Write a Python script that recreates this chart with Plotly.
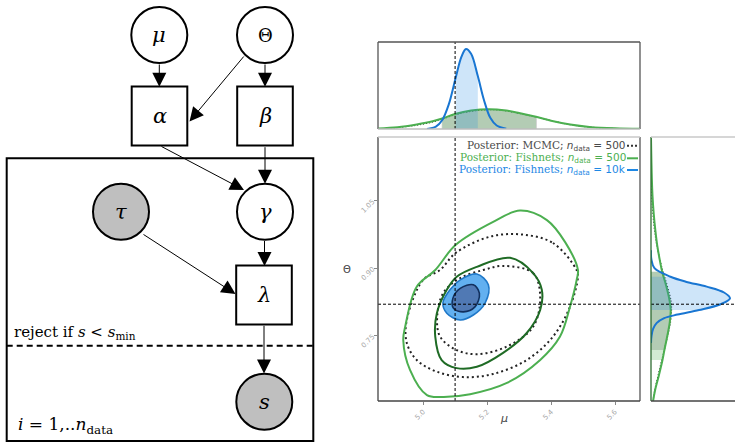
import plotly.graph_objects as go

# ---------------- graphical model (left) ----------------
node_label = ["μ", "Θ", "α", "β", "γ", "τ", "λ", "s"]
node_cx = [159.3, 265.0, 159.5, 265.0, 265.0, 121.0, 264.0, 264.3]
node_cy = [35.0, 35.0, 116.0, 116.0, 211.7, 211.7, 295.0, 401.7]
node_form = ["circle", "circle", "box", "box", "circle", "circle", "box", "circle"]
node_observed = [0, 0, 0, 0, 0, 1, 0, 1]
node_italic = [1, 0, 1, 1, 1, 1, 1, 1]

edge_tail_x = [159.3, 245.0, 265.0, 160.0, 265.0, 142.0, 264.5, 264.0]
edge_tail_y = [63.0, 55.0, 63.0, 145.7, 145.7, 233.5, 239.5, 324.3]
edge_head_x = [159.3, 189.5, 265.0, 244.0, 265.0, 235.5, 264.5, 264.0]
edge_head_y = [86.7, 121.5, 86.7, 190.0, 183.7, 294.0, 266.0, 373.5]

plate_x = [6.7, 313.3]
plate_y = [158.3, 441.0]
cut_y = 345.7

# ---------------- posterior summaries (right) ----------------
mu_true = 5.1
theta_true = 0.82

mcmc95_mu = [5.308, 5.406, 5.480, 5.484, 5.459, 5.406, 5.324, 5.219, 5.125, 5.043, 4.980, 4.949, 4.949, 5.000, 5.053, 5.102, 5.209]
mcmc95_th = [0.975, 0.956, 0.896, 0.881, 0.814, 0.748, 0.696, 0.665, 0.658, 0.670, 0.696, 0.734, 0.785, 0.874, 0.896, 0.934, 0.970]
mcmc68_mu = [5.250, 5.344, 5.366, 5.344, 5.262, 5.168, 5.105, 5.053, 5.044, 5.063, 5.116, 5.188]
mcmc68_th = [0.905, 0.889, 0.837, 0.770, 0.726, 0.709, 0.718, 0.748, 0.792, 0.845, 0.878, 0.896]

fish500_95_mu = [5.303, 5.387, 5.444, 5.484, 5.480, 5.459, 5.428, 5.366, 5.262, 5.147, 5.063, 5.012, 4.959, 4.938, 4.944, 4.980, 5.038, 5.102, 5.219]
fish500_95_th = [1.028, 1.007, 0.958, 0.896, 0.874, 0.814, 0.748, 0.696, 0.645, 0.620, 0.614, 0.618, 0.674, 0.740, 0.770, 0.859, 0.896, 0.952, 1.003]
fish500_68_mu = [5.272, 5.344, 5.371, 5.366, 5.324, 5.250, 5.168, 5.105, 5.058, 5.038, 5.043, 5.074, 5.105, 5.168]
fish500_68_th = [0.923, 0.889, 0.852, 0.807, 0.756, 0.712, 0.681, 0.678, 0.696, 0.748, 0.800, 0.852, 0.881, 0.903]

fish10k_95_mu = [5.168, 5.204, 5.194, 5.157, 5.116, 5.074, 5.062, 5.084, 5.116]
fish10k_95_th = [0.887, 0.863, 0.823, 0.796, 0.785, 0.800, 0.823, 0.852, 0.874]
fish10k_68_mu = [5.157, 5.176, 5.162, 5.126, 5.095, 5.093, 5.116]
fish10k_68_th = [0.863, 0.844, 0.814, 0.803, 0.811, 0.833, 0.855]

# marginal of mu
mu_grid_10k = [5.012, 5.04, 5.06, 5.08, 5.102, 5.12, 5.134, 5.15, 5.171, 5.19, 5.21, 5.23, 5.26]
mu_pdf_10k = [0.0, 0.35, 1.3, 3.5, 7.4, 10.4, 11.5, 10.8, 7.6, 4.2, 1.6, 0.5, 0.05]
mu_band_10k = (5.102, 5.171)

mu_grid_500 = [4.86, 4.92, 4.98, 5.03, 5.06, 5.10, 5.15, 5.207, 5.26, 5.30, 5.353, 5.40, 5.46, 5.52, 5.60, 5.68]
mu_pdf_500 = [0.08, 0.25, 0.65, 1.1, 1.5, 2.15, 2.65, 2.85, 2.65, 2.3, 1.75, 1.2, 0.65, 0.3, 0.09, 0.02]
mu_band_500 = (5.06, 5.353)

mu_grid_mcmc = [4.86, 4.92, 4.98, 5.03, 5.058, 5.10, 5.15, 5.21, 5.26, 5.30, 5.356, 5.40, 5.46, 5.52, 5.60, 5.68]
mu_pdf_mcmc = [0.05, 0.2, 0.55, 1.0, 1.4, 2.05, 2.55, 2.78, 2.6, 2.25, 1.7, 1.2, 0.62, 0.28, 0.07, 0.01]
mu_band_mcmc = (5.058, 5.356)

# marginal of Theta
th_grid_10k = [0.940, 0.920, 0.900, 0.881, 0.870, 0.859, 0.846, 0.833, 0.820, 0.807, 0.797, 0.789, 0.778, 0.765, 0.750, 0.734]
th_pdf_10k = [0.0, 0.05, 0.5, 2.8, 5.0, 8.0, 10.5, 11.35, 10.0, 6.9, 3.8, 1.9, 0.8, 0.3, 0.08, 0.0]
th_band_10k = (0.807, 0.881)

th_grid_500 = [1.19, 1.10, 1.06, 1.02, 0.985, 0.95, 0.911, 0.892, 0.86, 0.83, 0.807, 0.78, 0.75, 0.72, 0.696, 0.66, 0.63, 0.605]
th_pdf_500 = [0.0, 0.12, 0.22, 0.4, 0.62, 0.9, 1.35, 1.6, 2.2, 2.65, 2.83, 2.7, 2.35, 1.95, 1.65, 1.1, 0.6, 0.3]
th_band_500 = (0.696, 0.892)

th_grid_mcmc = [1.19, 1.10, 1.06, 1.02, 0.985, 0.95, 0.911, 0.892, 0.86, 0.83, 0.81, 0.78, 0.75, 0.718, 0.69, 0.66, 0.63, 0.605]
th_pdf_mcmc = [0.0, 0.05, 0.12, 0.28, 0.5, 0.85, 1.4, 1.75, 2.35, 2.85, 2.95, 2.8, 2.4, 1.9, 1.45, 1.0, 0.55, 0.3]
th_band_mcmc = (0.718, 0.892)

legend_rows = [
    ("Posterior: MCMC; ", "500", "#4a4a4a", "#333333", "dot"),
    ("Posterior: Fishnets; ", "500", "#4caf50", "#4caf50", "solid"),
    ("Posterior: Fishnets; ", "10k", "#1e88e5", "#1e88e5", "solid"),
]

C_MCMC = "#222222"
C_G95 = "#4caf50"
C_G68 = "#1f6b25"
C_B95_LINE = "#1f78c8"
C_B95_FILL = "#62b0f0"
C_B68_LINE = "#12305e"
C_B68_FILL = "#5079b4"

W, H = 735, 442
main_x = [378 / W, 640 / W]
main_y = [(H - 401) / H, (H - 137) / H]
top_y = [(H - 129) / H, (H - 42) / H]
side_x = [651 / W, 1.0]
mu_range = [4.859, 5.678]
th_range = [0.6049, 1.1916]

fig = go.Figure()


def closed(xs, ys):
    return list(xs) + [xs[0]], list(ys) + [ys[0]]


def contour(xs, ys, color, width, dash="solid", fill=None):
    cx, cy = closed(xs, ys)
    fig.add_trace(go.Scatter(
        x=cx, y=cy, mode="lines", xaxis="x", yaxis="y",
        line=dict(color=color, width=width, dash=dash, shape="spline", smoothing=1.0),
        fill="toself" if fill else None, fillcolor=fill,
        hoverinfo="skip", showlegend=False))


contour(mcmc95_mu, mcmc95_th, C_MCMC, 2.0, dash="2px,3px")
contour(mcmc68_mu, mcmc68_th, C_MCMC, 2.0, dash="2px,3px")
contour(fish500_95_mu, fish500_95_th, C_G95, 2.0)
contour(fish500_68_mu, fish500_68_th, C_G68, 2.0)
contour(fish10k_95_mu, fish10k_95_th, C_B95_LINE, 1.6, fill=C_B95_FILL)
contour(fish10k_68_mu, fish10k_68_th, C_B68_LINE, 1.6, fill=C_B68_FILL)


def band(grid, pdf, lo, hi):
    gx = [g for g in grid if lo <= g <= hi]
    gy = [p for g, p in zip(grid, pdf) if lo <= g <= hi]
    return gx, gy


def top_marginal(grid, pdf, lims, color, width, fillcolor, dash="solid"):
    bx, by = band(grid, pdf, *lims)
    fig.add_trace(go.Scatter(x=bx, y=by, xaxis="x2", yaxis="y2", mode="lines",
                             line=dict(width=0, shape="spline"), fill="tozeroy",
                             fillcolor=fillcolor, hoverinfo="skip", showlegend=False))
    fig.add_trace(go.Scatter(x=grid, y=pdf, xaxis="x2", yaxis="y2", mode="lines",
                             line=dict(color=color, width=width, dash=dash, shape="spline"),
                             hoverinfo="skip", showlegend=False))


def side_marginal(grid, pdf, lims, color, width, fillcolor, dash="solid"):
    by, bx = band(grid, pdf, *lims)
    fig.add_trace(go.Scatter(x=bx, y=by, xaxis="x3", yaxis="y3", mode="lines",
                             line=dict(width=0, shape="spline"), fill="tozerox",
                             fillcolor=fillcolor, hoverinfo="skip", showlegend=False))
    fig.add_trace(go.Scatter(x=pdf, y=grid, xaxis="x3", yaxis="y3", mode="lines",
                             line=dict(color=color, width=width, dash=dash, shape="spline"),
                             hoverinfo="skip", showlegend=False))


GRAY_FILL = "rgba(120,120,120,0.30)"
GREEN_FILL = "rgba(76,175,80,0.25)"
BLUE_FILL = "rgba(30,136,229,0.22)"

top_marginal(mu_grid_mcmc, mu_pdf_mcmc, mu_band_mcmc, C_MCMC, 1.2, GRAY_FILL, dash="1px,2px")
top_marginal(mu_grid_500, mu_pdf_500, mu_band_500, C_G95, 2.0, GREEN_FILL)
top_marginal(mu_grid_10k, mu_pdf_10k, mu_band_10k, "#1976d2", 2.0, BLUE_FILL)

side_marginal(th_grid_mcmc, th_pdf_mcmc, th_band_mcmc, C_MCMC, 1.2, GRAY_FILL, dash="1px,2px")
side_marginal(th_grid_500, th_pdf_500, th_band_500, C_G95, 2.0, GREEN_FILL)
side_marginal(th_grid_10k, th_pdf_10k, th_band_10k, "#1976d2", 2.0, BLUE_FILL)

shapes = []

# true parameter values
truth = dict(color="black", width=1, dash="3px,2px")
shapes.append(dict(type="line", xref="x", yref="y domain", x0=mu_true, x1=mu_true, y0=0, y1=1, line=truth))
shapes.append(dict(type="line", xref="x domain", yref="y", x0=0, x1=1, y0=theta_true, y1=theta_true, line=truth))
shapes.append(dict(type="line", xref="x2", yref="y2 domain", x0=mu_true, x1=mu_true, y0=0, y1=1, line=truth))
shapes.append(dict(type="line", xref="x3 domain", yref="y3", x0=0, x1=1, y0=theta_true, y1=theta_true, line=truth))


def frame(xa, ya, left, right, bottom, top, lw=1.3):
    xr, yr = f"{xa} domain", f"{ya} domain"
    for (x0, y0, x1, y1, col) in [(0, 0, 0, 1, left), (1, 0, 1, 1, right),
                                  (0, 0, 1, 0, bottom), (0, 1, 1, 1, top)]:
        if col:
            shapes.append(dict(type="line", xref=xr, yref=yr, x0=x0, y0=y0, x1=x1, y1=y1,
                               line=dict(color=col, width=lw)))


frame("x", "y", "#444444", "#555555", "#444444", "#c8c8c8")
frame("x2", "y2", "#555555", "#555555", "#bdbdbd", "#555555")
frame("x3", "y3", "#2f6b32", None, "#444444", "#c8c8c8")

# ---- graphical model ----
R = 28.0
BW, BH = 27.8, 29.5
for lab, cx, cy, form, obs in zip(node_label, node_cx, node_cy, node_form, node_observed):
    fillc = "#bfbfbf" if obs else "white"
    if form == "circle":
        shapes.append(dict(type="circle", xref="x4", yref="y4", x0=cx - R, x1=cx + R,
                           y0=cy - R, y1=cy + R, fillcolor=fillc, line=dict(color="black", width=2)))
    else:
        shapes.append(dict(type="rect", xref="x4", yref="y4", x0=cx - BW, x1=cx + BW,
                           y0=cy - BH, y1=cy + BH, fillcolor=fillc, line=dict(color="black", width=2)))

shapes.append(dict(type="rect", xref="x4", yref="y4", x0=plate_x[0], x1=plate_x[1],
                   y0=plate_y[0], y1=plate_y[1], line=dict(color="black", width=2), layer="below"))
shapes.append(dict(type="line", xref="x4", yref="y4", x0=plate_x[0], x1=plate_x[1],
                   y0=cut_y, y1=cut_y, line=dict(color="black", width=2, dash="6px,4px"), layer="below"))

annotations = []
for tx, ty, hx, hy in zip(edge_tail_x, edge_tail_y, edge_head_x, edge_head_y):
    annotations.append(dict(x=hx, y=hy, ax=tx, ay=ty, xref="x4", yref="y4", axref="x4", ayref="y4",
                            text="", showarrow=True, arrowhead=2, arrowsize=2.8, arrowwidth=1,
                            arrowcolor="black"))

for lab, cx, cy, ital in zip(node_label, node_cx, node_cy, node_italic):
    txt = f"<i>{lab}</i>" if ital else lab
    annotations.append(dict(x=cx, y=cy, xref="x4", yref="y4", text=txt, showarrow=False,
                            font=dict(family="DejaVu Serif", size=21 if ital else 18, color="black")))

annotations.append(dict(x=12, y=332, xref="x4", yref="y4", xanchor="left", showarrow=False,
                        text="reject if <i>s</i> &lt; <i>s</i><sub>min</sub>",
                        font=dict(family="DejaVu Serif", size=15, color="black")))
annotations.append(dict(x=16, y=425, xref="x4", yref="y4", xanchor="left", showarrow=False,
                        text="<i>i</i> = 1,..<i>n</i><sub>data</sub>",
                        font=dict(family="DejaVu Serif", size=17, color="black")))

# ---- legend (text right-aligned, line sample on the right) ----
row_py = [145.7, 158.3, 170.0]
text_right = 627.5
for (head, val, tcol, lcol, dash), py in zip(legend_rows, row_py):
    yy = 1 - py / H
    annotations.append(dict(
        x=text_right / W, y=yy, xref="paper", yref="paper", xanchor="right", yanchor="middle",
        showarrow=False,
        text=(f"{head}<span style='font-family:DejaVu Sans'><i>n</i><sub>data</sub> = {val}</span>"),
        font=dict(family="DejaVu Serif", size=10.5, color=tcol)))
    shapes.append(dict(type="line", xref="paper", yref="paper", x0=627 / W, x1=638 / W, y0=yy, y1=yy,
                       line=dict(color=lcol, width=2, dash="2px,2px" if dash == "dot" else "solid")))

# axis titles
annotations.append(dict(x=347 / W, y=1 - 269 / H, xref="paper", yref="paper", text="Θ",
                        showarrow=False, font=dict(family="DejaVu Sans", size=10, color="#444444")))
annotations.append(dict(x=510 / W, y=1 - 427 / H, xref="paper", yref="paper", text="<i>μ</i>",
                        showarrow=False, font=dict(family="DejaVu Sans", size=11, color="#444444")))

tickfont = dict(family="DejaVu Sans", size=7, color="#a8a8a8")

fig.update_layout(
    width=W, height=H, margin=dict(l=0, r=0, t=0, b=0),
    paper_bgcolor="white", plot_bgcolor="rgba(0,0,0,0)",
    showlegend=False, shapes=shapes, annotations=annotations,
    xaxis=dict(domain=main_x, range=mu_range, anchor="y", tickvals=[5.0, 5.2, 5.4, 5.6],
               ticktext=["5.0", "5.2", "5.4", "5.6"], tickangle=-45, ticks="outside", ticklen=3,
               tickcolor="#888888", tickfont=tickfont, showgrid=False, zeroline=False, showline=False),
    yaxis=dict(domain=main_y, range=th_range, anchor="x", tickvals=[0.75, 0.90, 1.05],
               ticktext=["0.75", "0.90", "1.05"], tickangle=-45, ticks="outside", ticklen=3,
               tickcolor="#888888", tickfont=tickfont, showgrid=False, zeroline=False, showline=False),
    xaxis2=dict(domain=main_x, range=mu_range, anchor="y2", showticklabels=False, ticks="",
                showgrid=False, zeroline=False, showline=False),
    yaxis2=dict(domain=top_y, range=[0, 12.5], anchor="x2", showticklabels=False, ticks="",
                showgrid=False, zeroline=False, showline=False),
    xaxis3=dict(domain=side_x, range=[0, 12.07], anchor="y3", showticklabels=False, ticks="",
                showgrid=False, zeroline=False, showline=False),
    yaxis3=dict(domain=main_y, range=th_range, anchor="x3", showticklabels=False, ticks="",
                showgrid=False, zeroline=False, showline=False),
    xaxis4=dict(domain=[0, 330 / W], range=[0, 330], anchor="y4", visible=False),
    yaxis4=dict(domain=[0, 1], range=[442, 0], anchor="x4", visible=False),
)

fig.write_html("out.html")
